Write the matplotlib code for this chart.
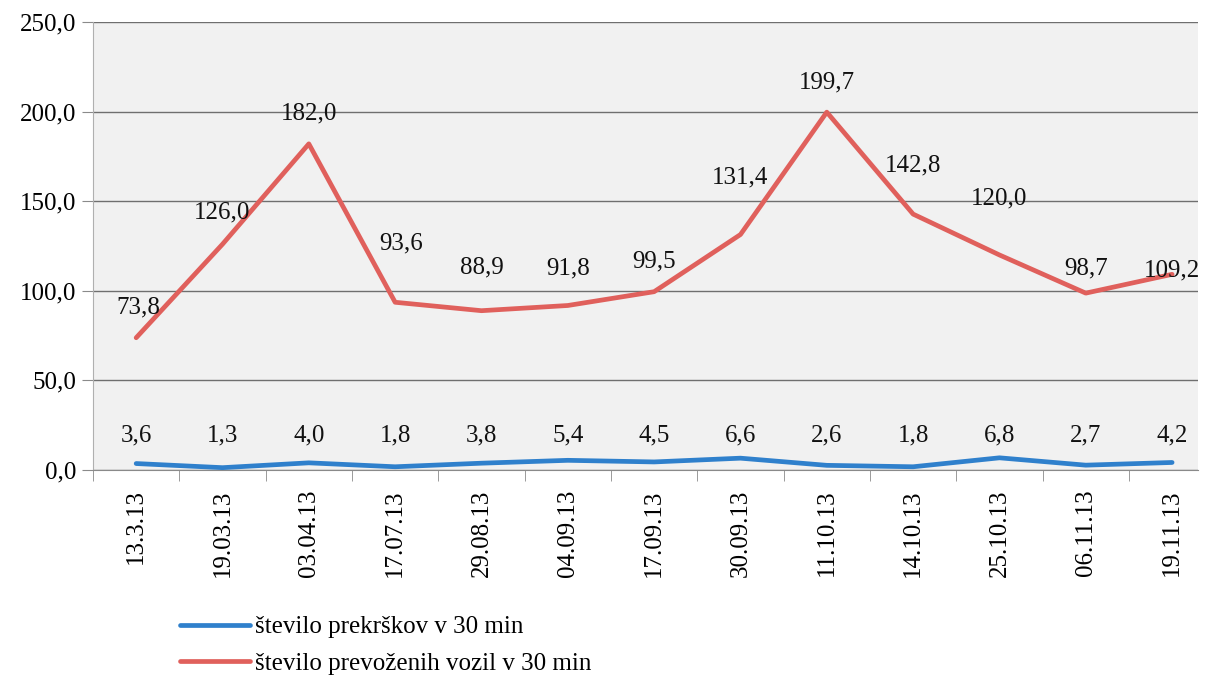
import matplotlib
matplotlib.use("Agg")
import matplotlib.pyplot as plt
from matplotlib.ticker import FuncFormatter, FixedLocator

plt.rcParams["font.family"] = ["Liberation Serif", "DejaVu Serif"]

datumi = ["13.3.13", "19.03.13", "03.04.13", "17.07.13", "29.08.13", "04.09.13",
          "17.09.13", "30.09.13", "11.10.13", "14.10.13", "25.10.13", "06.11.13", "19.11.13"]
prekrski = [3.6, 1.3, 4.0, 1.8, 3.8, 5.4, 4.5, 6.6, 2.6, 1.8, 6.8, 2.7, 4.2]
vozila = [73.8, 126.0, 182.0, 93.6, 88.9, 91.8, 99.5, 131.4, 199.7, 142.8, 120.0, 98.7, 109.2]

# odmiki oznak (v pikslih, sredina besedila) kot na izvirniku
odmik_rdeca = [(2, 30), (0, 32), (0, 30), (6, 59), (0, 43), (0, 37), (0, 30),
               (0, 57), (0, 30), (0, 49), (0, 57), (0, 25), (0, 4)]

RDECA = "#e0605c"
MODRA = "#2f80cc"
SIVA = "#8a8a8a"
FS = 18

fig = plt.figure(figsize=(12.09, 6.83), dpi=100)
ax = fig.add_axes([93 / 1209, 1 - 470 / 683, (1198 - 93) / 1209, (470 - 22) / 683])
ax.set_facecolor("#f1f1f1")

x = list(range(len(datumi)))
ax.plot(x, prekrski, color=MODRA, lw=3.4, label="število prekrškov v 30 min", solid_capstyle="round")
ax.plot(x, vozila, color=RDECA, lw=3.4, label="število prevoženih vozil v 30 min", solid_capstyle="round")

for i, v in enumerate(vozila):
    dx, dy = odmik_rdeca[i]
    ax.annotate(f"{v:.1f}".replace(".", ","), (i, v), xytext=(dx, dy),
                textcoords="offset pixels", ha="center", va="center", fontsize=FS, color="#111111")
for i, v in enumerate(prekrski):
    ax.annotate(f"{v:.1f}".replace(".", ","), (i, 0), xytext=(0, 35),
                textcoords="offset pixels", ha="center", va="center", fontsize=FS, color="#111111")

ax.set_ylim(0, 250)
ax.set_xlim(-0.5, 12.3)
ax.set_yticks([0, 50, 100, 150, 200, 250])
ax.yaxis.set_major_formatter(FuncFormatter(lambda v, p: f"{v:.1f}".replace(".", ",")))
ax.grid(axis="y", color="#6f6f6f", lw=1.0)
ax.set_axisbelow(True)

ax.set_xticks(x)
ax.set_xticklabels(datumi, rotation=90, fontsize=FS)
ax.xaxis.set_minor_locator(FixedLocator([i - 0.5 for i in range(len(datumi) + 1)]))
ax.tick_params(axis="x", which="major", length=0, pad=14)
ax.tick_params(axis="x", which="minor", length=8, color=SIVA)
ax.tick_params(axis="y", length=8, color=SIVA, labelsize=FS, pad=4)

for s in ["top", "right"]:
    ax.spines[s].set_visible(False)
ax.spines["left"].set_color("#b0b0b0")
ax.spines["bottom"].set_color(SIVA)

fig.legend(loc="upper left", bbox_to_anchor=(180 / 1209, 1 - 616 / 683), frameon=False,
           borderaxespad=0, borderpad=0, fontsize=FS, handlelength=2.8,
           handletextpad=0.2, labelspacing=0.55)

fig.savefig("out.png", dpi=100)
